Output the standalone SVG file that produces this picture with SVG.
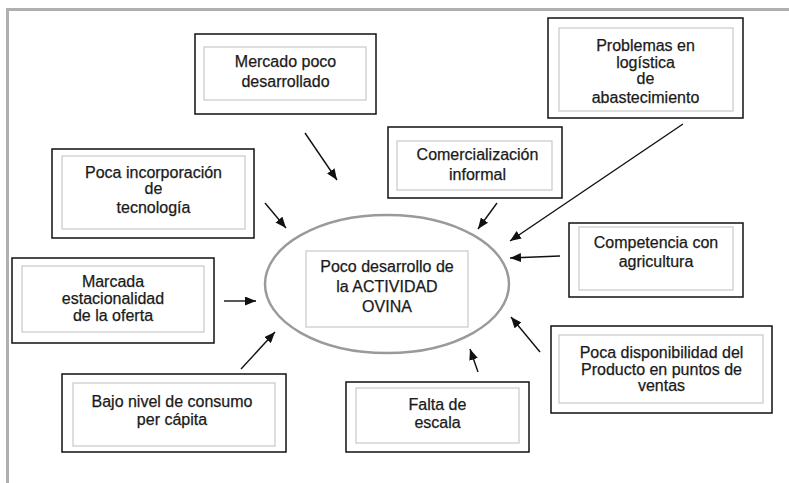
<svg xmlns="http://www.w3.org/2000/svg" width="789" height="483" viewBox="0 0 789 483">
<style>
.outer{fill:#fff;stroke:#111;stroke-width:1.5}
.inner{fill:none;stroke:#c8c8c8;stroke-width:1.2}
.t{font-family:"Liberation Sans",Arial,sans-serif;font-size:16px;fill:#1a1a1a;text-anchor:middle;stroke:#1a1a1a;stroke-width:0.25}
.c line{stroke:#111;stroke-width:1.4;marker-end:url(#ah)}
</style>
<defs>
<marker id="ah" markerUnits="userSpaceOnUse" markerWidth="11" markerHeight="9" refX="11" refY="4.5" orient="auto">
<path d="M0,0 L11,4.5 L0,9 z" fill="#111"/>
</marker>
</defs>
<rect width="789" height="483" fill="#fff"/>
<g id="frame" fill="none" stroke="#b0b0b0" stroke-width="3">
<path d="M7.5,483 V9.5 H789"/>
</g>
<g class="c" id="connectors">
<line x1="305" y1="133" x2="337" y2="180"/>
<line x1="265" y1="203" x2="286" y2="228"/>
<line x1="497" y1="203" x2="478" y2="229"/>
<line x1="683" y1="124" x2="510" y2="241"/>
<line x1="560" y1="256" x2="510" y2="258"/>
<line x1="540" y1="352" x2="511" y2="317"/>
<line x1="478" y1="372" x2="470" y2="349"/>
<line x1="241" y1="369" x2="275" y2="332"/>
<line x1="224" y1="301" x2="256" y2="301"/>
</g>
<g id="center">
<ellipse cx="387" cy="284" rx="122" ry="69" fill="#fff" stroke="#9a9a9a" stroke-width="2.5"/>
<rect x="306" y="251" width="162" height="76" class="inner"/>
<text class="t" x="387" y="272">Poco desarrollo de</text>
<text class="t" x="387" y="292">la ACTIVIDAD</text>
<text class="t" x="387" y="312">OVINA</text>
</g>
<g id="mercado">
<rect x="195" y="34" width="181" height="80" class="outer"/>
<rect x="204" y="47" width="162" height="53" class="inner"/>
<text class="t" x="285.5" y="67">Mercado poco</text>
<text class="t" x="285.5" y="87">desarrollado</text>
</g>
<g id="problemas">
<rect x="548" y="18" width="195" height="100" class="outer"/>
<rect x="559" y="28" width="174" height="83" class="inner"/>
<text class="t" x="645.5" y="51">Problemas en</text>
<text class="t" x="645.5" y="68">logística</text>
<text class="t" x="645.5" y="84">de</text>
<text class="t" x="645.5" y="103">abastecimiento</text>
</g>
<g id="incorporacion">
<rect x="52" y="149" width="202" height="89" class="outer"/>
<rect x="62" y="156" width="183" height="73" class="inner"/>
<text class="t" x="153.5" y="178">Poca incorporación</text>
<text class="t" x="153.5" y="194">de</text>
<text class="t" x="153.5" y="213">tecnología</text>
</g>
<g id="comercializacion">
<rect x="388" y="127" width="174" height="71" class="outer"/>
<rect x="397" y="141" width="155" height="49" class="inner"/>
<text class="t" x="477.5" y="160">Comercialización</text>
<text class="t" x="477.5" y="180">informal</text>
</g>
<g id="marcada">
<rect x="12" y="258" width="202" height="85" class="outer"/>
<rect x="22" y="266" width="182" height="66" class="inner"/>
<text class="t" x="113" y="287">Marcada</text>
<text class="t" x="113" y="304">estacionalidad</text>
<text class="t" x="113" y="321">de la oferta</text>
</g>
<g id="competencia">
<rect x="569" y="223" width="174" height="74" class="outer"/>
<rect x="579" y="227" width="154" height="63" class="inner"/>
<text class="t" x="656" y="248">Competencia con</text>
<text class="t" x="656" y="267">agricultura</text>
</g>
<g id="disponibilidad">
<rect x="551" y="326" width="221" height="87" class="outer"/>
<rect x="559" y="335" width="204" height="68" class="inner"/>
<text class="t" x="661.5" y="358">Poca disponibilidad del</text>
<text class="t" x="661.5" y="375">Producto en puntos de</text>
<text class="t" x="661.5" y="391">ventas</text>
</g>
<g id="bajo">
<rect x="62" y="374" width="224" height="78" class="outer"/>
<rect x="73" y="383" width="202" height="63" class="inner"/>
<text class="t" x="172" y="407">Bajo nivel de consumo</text>
<text class="t" x="172" y="425">per cápita</text>
</g>
<g id="falta">
<rect x="346" y="382" width="183" height="70" class="outer"/>
<rect x="356" y="388" width="163" height="55" class="inner"/>
<text class="t" x="437.5" y="410">Falta de</text>
<text class="t" x="437.5" y="428">escala</text>
</g>
</svg>
